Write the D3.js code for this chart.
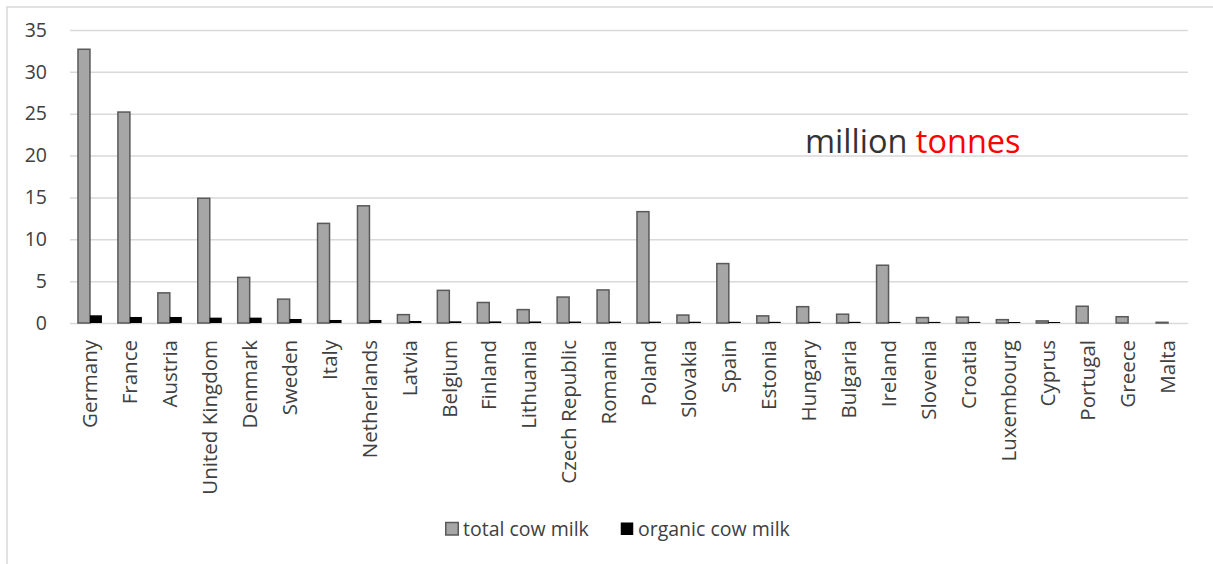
<!DOCTYPE html>
<html>
<head>
<meta charset="utf-8">
<script src="https://cdn.jsdelivr.net/npm/d3@7"></script>
<style>
  html, body { margin: 0; padding: 0; background: #fff; }
  svg { display: block; }
  text { font-family: "Open Sans", "Noto Sans", sans-serif; }
</style>
</head>
<body>
<svg id="chart" width="1213" height="564"></svg>
<script>
// Cow milk production by country, million tonnes
const countries = ["Germany", "France", "Austria", "United Kingdom", "Denmark", "Sweden",
  "Italy", "Netherlands", "Latvia", "Belgium", "Finland", "Lithuania", "Czech Republic",
  "Romania", "Poland", "Slovakia", "Spain", "Estonia", "Hungary", "Bulgaria", "Ireland",
  "Slovenia", "Croatia", "Luxembourg", "Cyprus", "Portugal", "Greece", "Malta"];

const totalMilk = [32.7, 25.2, 3.6, 14.9, 5.45, 2.85, 11.9, 14.0, 1.0, 3.9, 2.45, 1.6, 3.1,
  3.95, 13.3, 0.95, 7.1, 0.85, 1.95, 1.05, 6.9, 0.65, 0.7, 0.4, 0.25, 2.0, 0.75, 0.08];

const organicMilk = [0.92, 0.72, 0.72, 0.64, 0.64, 0.48, 0.36, 0.36, 0.24, 0.2, 0.19, 0.18, 0.17,
  0.16, 0.16, 0.15, 0.15, 0.14, 0.14, 0.14, 0.13, 0.13, 0.13, 0.12, 0.12, 0, 0, 0];

const seriesNames = ["total cow milk", "organic cow milk"];
const yTicks = [0, 5, 10, 15, 20, 25, 30, 35];

const rows = countries.map((c, i) => ({ country: c, values: [totalMilk[i], organicMilk[i]] }));

const svg = d3.select("#chart");
const plot = { left: 70, right: 1188, top: 30, bottom: 323 };

// chart frame
svg.append("rect")
  .attr("x", 7).attr("y", 7).attr("width", 1220).attr("height", 580)
  .attr("fill", "none").attr("stroke", "#d9d9d9").attr("stroke-width", 1.5);

const x = d3.scaleBand().domain(countries).range([plot.left, plot.right])
  .paddingInner(0.4).paddingOuter(0.2);
const x1 = d3.scaleBand().domain(seriesNames).range([0, x.bandwidth()]);
const y = d3.scaleLinear().domain([0, 35]).range([plot.bottom, plot.top]);

// gridlines
const grid = svg.append("g").attr("transform", `translate(${plot.left},0)`)
  .call(d3.axisLeft(y).tickValues(yTicks).tickSize(-(plot.right - plot.left)).tickFormat(""));
grid.select(".domain").remove();
grid.selectAll("line").attr("stroke", "#d9d9d9").attr("stroke-width", 1.5);

// y axis labels
const yAxis = svg.append("g").attr("transform", `translate(${plot.left},0)`)
  .call(d3.axisLeft(y).tickValues(yTicks).tickSize(0).tickPadding(23));
yAxis.select(".domain").remove();
yAxis.selectAll("text")
  .attr("fill", "#404040").style("font-size", "19.5px")
  .style("font-family", "'Open Sans', sans-serif");

// bars
const colors = ["#a6a6a6", "#000000"];
const groups = svg.append("g").selectAll("g").data(rows).join("g")
  .attr("transform", d => `translate(${x(d.country)},0)`);
groups.selectAll("rect")
  .data(d => d.values.map((v, k) => ({ key: seriesNames[k], k, v })))
  .join("rect")
  .filter(d => d.v > 0)
  .attr("x", d => x1(d.key))
  .attr("width", x1.bandwidth())
  .attr("y", d => y(d.v))
  .attr("height", d => y(0) - y(d.v))
  .attr("fill", d => colors[d.k])
  .attr("stroke", d => d.k === 0 ? "#595959" : "none")
  .attr("stroke-width", 1.5);

// category labels
const xAxis = svg.append("g").attr("transform", `translate(0,${plot.bottom})`)
  .call(d3.axisBottom(x).tickSize(0).tickPadding(0));
xAxis.select(".domain").remove();
xAxis.selectAll("text")
  .attr("transform", "rotate(-90)")
  .attr("text-anchor", "end")
  .attr("x", -17).attr("y", 0).attr("dy", "0.35em")
  .attr("fill", "#404040").style("font-size", "20.5px")
  .style("font-family", "'Open Sans', sans-serif");

// unit annotation
const note = svg.append("text").attr("x", 805).attr("y", 152.5)
  .style("font-size", "32.5px");
note.append("tspan").attr("fill", "#333333").text("million ");
note.append("tspan").attr("fill", "#ff0000").text("tonnes");

// legend
const legend = svg.append("g");
const legendX = [445, 620];
seriesNames.forEach((name, k) => {
  legend.append("rect").attr("x", legendX[k] + 0.75).attr("y", 522.5)
    .attr("width", 12.5).attr("height", 12.5)
    .attr("fill", colors[k]).attr("stroke", k === 0 ? "#595959" : "none").attr("stroke-width", 1.5);
  legend.append("text").attr("x", legendX[k] + 18).attr("y", 536)
    .attr("fill", "#404040").style("font-size", "19.5px").text(name);
});
</script>
</body>
</html>
